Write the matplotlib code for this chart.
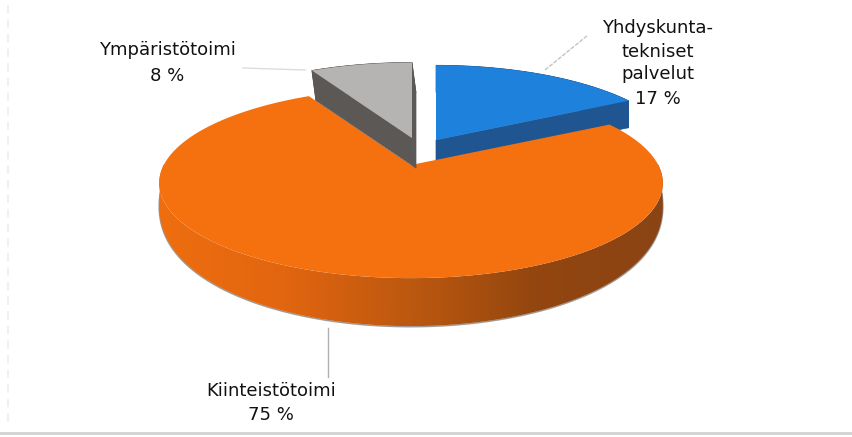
import numpy as np
import matplotlib
matplotlib.use('Agg')
import matplotlib.pyplot as plt
from matplotlib.collections import PolyCollection
from matplotlib.colors import LinearSegmentedColormap
from matplotlib.patches import Polygon

# share of each sector, clockwise from twelve o'clock
labels = [['Yhdyskunta-', 'tekniset', 'palvelut'], ['Kiinteistötoimi'], ['Ympäristötoimi']]
values = [17, 75, 8]

top_colors = ['#1E82DC', '#F5700F', '#B6B4B2']
side_colors = ['#1F5590', None, '#5C5856']
# apex in pixels, size, depth (dx, dy) for each sector
apex = [(436, 140), (411, 165), (412, 138)]
size = [0.97, 1.0, 0.98]
depth = [(0, 27), (0, 48), (4, 30)]

# perspective of the tilted disc
D = 5.27
A = 1303
B = 483

orange_side = LinearSegmentedColormap.from_list('side', ['#EE6E0F', '#E2650F', '#BC580F', '#93460F', '#8A4414'])


def project(t, center, s):
    X = np.sin(t)
    Y = np.cos(t)
    return center[0] + s * A * X / (D + Y), center[1] - s * B * Y / (D + Y)


fig = plt.figure(figsize=(8.53, 4.37), dpi=100)
ax = fig.add_axes([0, 0, 1, 1])
ax.axis('off')

# scan edges
ax.plot([8, 8], [5, 425], color='#F0F0F0', lw=1.5, ls=(0, (4, 3)))
ax.plot([0, 853], [433, 433], color='#D2D2D2', lw=2)

edges = np.cumsum([0] + values) / 100 * 2 * np.pi

for i in range(len(values)):
    t = np.linspace(edges[i], edges[i + 1], 150)
    x, y = project(t, apex[i], size[i])
    dx, dy = depth[i]

    if side_colors[i] is None:
        # curved front of the big sector, lit from the left
        tt = np.linspace(np.pi / 2, 3 * np.pi / 2, 400)
        xs, ys = project(tt, apex[i], size[i])
        # wall gets thinner towards the sides of the disc
        ds = dy * np.clip(-np.cos(tt), 0, 1) ** 0.45
        wall = Polygon(np.c_[np.r_[xs, xs[::-1]], np.r_[ys, (ys + ds)[::-1]]], transform=ax.transData)
        im = ax.imshow(np.linspace(0, 1, 256)[None, :], cmap=orange_side, aspect='auto', zorder=0.5,
                       extent=[xs.min(), xs.max(), (ys + ds).max(), ys.min()])
        im.set_clip_path(wall)
        ax.plot(xs, ys + ds + 0.6, color='#77706A', lw=1.1, alpha=0.7, zorder=0.4)
    else:
        px = np.r_[apex[i][0], x, apex[i][0]]
        py = np.r_[apex[i][1], y, apex[i][1]]
        quads = [[(px[k], py[k]), (px[k + 1], py[k + 1]), (px[k + 1] + dx, py[k + 1] + dy), (px[k] + dx, py[k] + dy)]
                 for k in range(len(px) - 1)]
        ax.add_collection(PolyCollection(quads, facecolors=side_colors[i], edgecolors=side_colors[i], linewidths=0.5))

    ax.fill(np.r_[apex[i][0], x], np.r_[apex[i][1], y], color=top_colors[i], lw=0)

# leader lines
ax.plot([545, 588], [70, 35], color='#C4C4C4', lw=1, ls=(0, (3, 1)))
ax.plot([328, 328], [328, 377], color='#B0B0B0', lw=1)
ax.plot([243, 305], [68, 70], color='#DDDDDD', lw=1)

# labels
font = dict(family='DejaVu Sans', fontsize=13, color='#111111', ha='center', va='center')
for line, ty in zip(labels[0], [28, 52, 74]):
    ax.text(658, ty, line, **font)
ax.text(658, 99, f'{values[0]} %', **font)
ax.text(271, 391, labels[1][0], **font)
ax.text(271, 415, f'{values[1]} %', **font)
ax.text(167, 50, labels[2][0], **font)
ax.text(167, 76, f'{values[2]} %', **font)

ax.set_xlim(0, 853)
ax.set_ylim(437, 0)

fig.savefig('out.png', dpi=100)
